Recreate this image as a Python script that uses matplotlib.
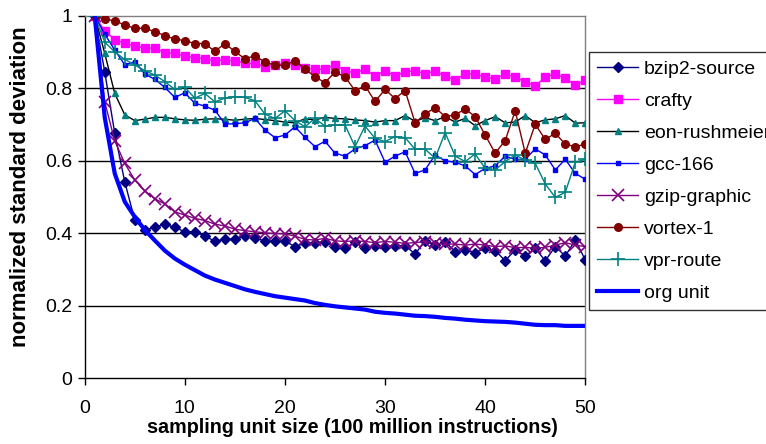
import matplotlib
matplotlib.use("Agg")
import matplotlib.pyplot as plt

plt.rcParams['font.family'] = ['Liberation Sans', 'DejaVu Sans']

x = list(range(1, 51))

bzip2_source = [1.0, 0.846, 0.676, 0.542, 0.436, 0.409, 0.416, 0.425, 0.416, 0.404,
                0.404, 0.392, 0.378, 0.383, 0.383, 0.392, 0.388, 0.378, 0.378, 0.378,
                0.363, 0.372, 0.374, 0.376, 0.363, 0.358, 0.376, 0.358, 0.365, 0.363,
                0.365, 0.365, 0.343, 0.378, 0.367, 0.377, 0.349, 0.354, 0.346, 0.358,
                0.352, 0.324, 0.354, 0.337, 0.358, 0.324, 0.363, 0.337, 0.381, 0.326]
crafty = [1.0, 0.959, 0.935, 0.925, 0.917, 0.912, 0.911, 0.899, 0.897, 0.889,
          0.885, 0.882, 0.877, 0.878, 0.877, 0.869, 0.869, 0.860, 0.864, 0.869,
          0.865, 0.855, 0.853, 0.853, 0.865, 0.849, 0.843, 0.853, 0.834, 0.849,
          0.834, 0.846, 0.849, 0.840, 0.848, 0.834, 0.823, 0.840, 0.840, 0.831,
          0.826, 0.840, 0.831, 0.818, 0.807, 0.831, 0.840, 0.828, 0.809, 0.823]
eon_rushmeier = [1.0, 0.897, 0.786, 0.727, 0.711, 0.715, 0.720, 0.720, 0.716, 0.713,
                 0.712, 0.715, 0.716, 0.715, 0.712, 0.715, 0.717, 0.714, 0.711, 0.707,
                 0.705, 0.716, 0.713, 0.720, 0.717, 0.716, 0.713, 0.711, 0.707, 0.711,
                 0.711, 0.725, 0.709, 0.719, 0.711, 0.722, 0.707, 0.717, 0.697, 0.711,
                 0.722, 0.705, 0.707, 0.725, 0.705, 0.713, 0.716, 0.725, 0.704, 0.705]
gcc_166 = [1.0, 0.950, 0.906, 0.865, 0.874, 0.840, 0.825, 0.803, 0.775, 0.788,
           0.759, 0.751, 0.740, 0.702, 0.702, 0.705, 0.717, 0.685, 0.664, 0.671,
           0.694, 0.665, 0.639, 0.654, 0.621, 0.613, 0.633, 0.642, 0.657, 0.596,
           0.613, 0.625, 0.565, 0.575, 0.616, 0.600, 0.596, 0.586, 0.562, 0.579,
           0.586, 0.613, 0.604, 0.604, 0.633, 0.616, 0.575, 0.604, 0.565, 0.549]
gzip_graphic = [1.0, 0.763, 0.655, 0.593, 0.547, 0.517, 0.495, 0.481, 0.459, 0.450,
                0.441, 0.435, 0.425, 0.420, 0.411, 0.407, 0.404, 0.401, 0.399, 0.398,
                0.392, 0.383, 0.381, 0.386, 0.379, 0.377, 0.379, 0.377, 0.374, 0.377,
                0.375, 0.372, 0.374, 0.377, 0.372, 0.370, 0.370, 0.367, 0.370, 0.367,
                0.363, 0.365, 0.360, 0.361, 0.358, 0.361, 0.367, 0.374, 0.367, 0.363]
vortex_1 = [1.0, 0.991, 0.987, 0.975, 0.966, 0.966, 0.957, 0.946, 0.936, 0.932,
            0.924, 0.924, 0.902, 0.924, 0.902, 0.882, 0.890, 0.873, 0.864, 0.864,
            0.877, 0.854, 0.832, 0.816, 0.845, 0.832, 0.794, 0.807, 0.764, 0.797,
            0.772, 0.794, 0.705, 0.729, 0.747, 0.722, 0.727, 0.743, 0.722, 0.671,
            0.621, 0.656, 0.738, 0.621, 0.701, 0.659, 0.676, 0.646, 0.639, 0.646]
vpr_route = [1.0, 0.928, 0.901, 0.880, 0.865, 0.849, 0.837, 0.819, 0.797, 0.803,
             0.773, 0.786, 0.763, 0.773, 0.777, 0.775, 0.766, 0.729, 0.717, 0.738,
             0.711, 0.694, 0.717, 0.696, 0.699, 0.699, 0.639, 0.696, 0.662, 0.653,
             0.667, 0.664, 0.632, 0.632, 0.607, 0.678, 0.613, 0.598, 0.619, 0.579,
             0.575, 0.598, 0.616, 0.602, 0.593, 0.536, 0.499, 0.513, 0.596, 0.604]
org_unit = [1.0, 0.720, 0.565, 0.487, 0.445, 0.409, 0.380, 0.352, 0.330, 0.313,
            0.298, 0.283, 0.272, 0.263, 0.254, 0.245, 0.238, 0.232, 0.226, 0.222,
            0.218, 0.214, 0.207, 0.202, 0.198, 0.195, 0.192, 0.189, 0.183, 0.180,
            0.178, 0.175, 0.172, 0.171, 0.169, 0.166, 0.164, 0.161, 0.159, 0.157,
            0.156, 0.155, 0.153, 0.150, 0.147, 0.146, 0.146, 0.144, 0.144, 0.144]

x_ticks = [0, 10, 20, 30, 40, 50]
y_ticks = [0, 0.2, 0.4, 0.6, 0.8, 1.0]
y_tick_labels = ['0', '0.2', '0.4', '0.6', '0.8', '1']

fig = plt.figure(figsize=(7.66, 4.44), dpi=100)
ax = fig.add_axes([84.7 / 766, 66 / 444, (585.3 - 84.7) / 766, (378 - 16) / 444])

FS = 14

for yv in y_ticks[1:-1]:
    ax.axhline(yv, color='black', lw=1.0, zorder=1)

ax.plot(x, bzip2_source, color='#000080', lw=1.0, marker='D', ms=5, label='bzip2-source', zorder=3)
ax.plot(x, crafty, color='#FF00FF', lw=1.0, marker='s', ms=5.5, label='crafty', zorder=3)
ax.plot(x, eon_rushmeier, color='black', lw=1.0, marker='^', ms=4, mfc='#008080', mec='#008080',
        label='eon-rushmeier', zorder=3)
ax.plot(x, gcc_166, color='#0000FF', lw=1.0, marker='s', ms=3, label='gcc-166', zorder=3)
ax.plot(x, gzip_graphic, color='#800080', lw=1.0, marker='x', ms=8, mew=1.2, label='gzip-graphic', zorder=3)
ax.plot(x, vortex_1, color='#800000', lw=1.0, marker='o', ms=5.5, label='vortex-1', zorder=3)
ax.plot(x, vpr_route, color='#008080', lw=1.0, marker='+', ms=10, mew=1.2, label='vpr-route', zorder=3)
ax.plot(x, org_unit, color='#0000FF', lw=3.0, label='org unit', zorder=3)

ax.set_xlim(0, 50)
ax.set_ylim(0, 1)
ax.set_xticks(x_ticks)
ax.set_xticklabels([str(t) for t in x_ticks])
ax.set_yticks(y_ticks)
ax.set_yticklabels(y_tick_labels)
ax.tick_params(axis='both', direction='out', length=5, width=1, color='black', labelsize=FS)
ax.tick_params(axis='x', pad=11)
ax.tick_params(axis='y', pad=4)

for s in ['top', 'right']:
    ax.spines[s].set_color('#808080')
    ax.spines[s].set_linewidth(1.0)
for s in ['left', 'bottom']:
    ax.spines[s].set_color('black')
    ax.spines[s].set_linewidth(1.0)

ax.set_xlabel('sampling unit size (100 million instructions)', fontsize=14.2, fontweight='bold')
ax.xaxis.set_label_coords(0.535, -0.11)
ax.set_ylabel('normalized standard deviation', fontsize=16, fontweight='bold')
ax.yaxis.set_label_coords(-0.107, 0.528)

leg = fig.legend(loc='upper left', bbox_to_anchor=(589 / 766, 1 - 52.3 / 444),
                 bbox_transform=fig.transFigure, frameon=True, fancybox=False,
                 edgecolor='black', fontsize=FS, handlelength=2.1, handletextpad=0.3,
                 labelspacing=0.74, borderpad=0.42, borderaxespad=0, markerscale=1.0)
leg.get_frame().set_linewidth(1.0)

fig.savefig('out.png', dpi=100)
